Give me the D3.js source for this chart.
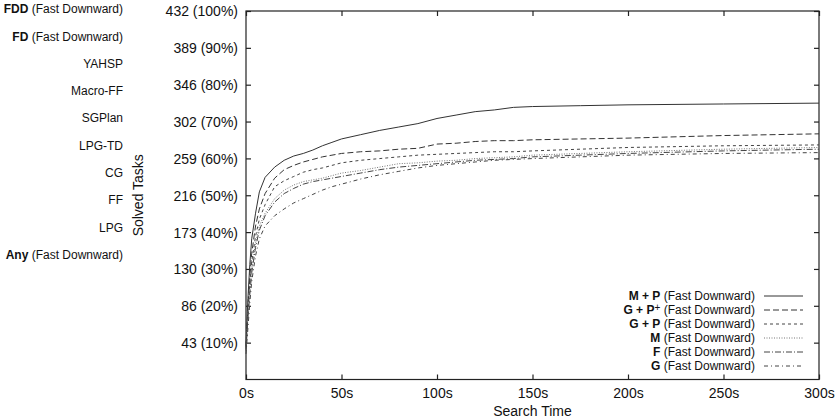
<!DOCTYPE html>
<html>
<head>
<meta charset="utf-8">
<script src="https://cdn.jsdelivr.net/npm/d3@7"></script>
<style>
body { margin: 0; background: #fff; }
text { font-family: "Liberation Sans", Arial, sans-serif; fill: #111; }
</style>
</head>
<body>
<div class="canvas"></div>
<script>
var width = 836,
    height = 420;

var svg = d3.select(".canvas").append("svg")
    .attr("width", width)
    .attr("height", height);

// total tasks, y ticks in percent
var total = 432;
var yTickPct = [10, 20, 30, 40, 50, 60, 70, 80, 90, 100];
var xTicks = [0, 50, 100, 150, 200, 250, 300];

// planner labels at the left
var planners = [
    ["FDD", " (Fast Downward)"],
    ["FD", " (Fast Downward)"],
    ["", "YAHSP"],
    ["", "Macro-FF"],
    ["", "SGPlan"],
    ["", "LPG-TD"],
    ["", "CG"],
    ["", "FF"],
    ["", "LPG"],
    ["Any", " (Fast Downward)"]
];

// time points (s) and solved tasks for each configuration
var times = [0, 1, 2, 3, 5, 7, 10, 15, 20, 25, 30, 35, 40, 45, 50, 60, 70, 80, 90, 100, 110, 120, 130, 140, 150, 175, 200, 250, 300];
var mp   = [40, 95, 135, 165, 195, 220, 237, 249, 257, 262, 265, 269, 274, 278, 282, 287, 292, 296, 300, 306, 310, 314, 316, 319, 320, 321, 322, 323, 324];
var gpp  = [38, 85, 120, 148, 180, 200, 218, 236, 246, 251, 255, 258, 261, 263, 265, 267, 268, 270, 271, 276, 277, 279, 280, 280, 281, 282, 283, 286, 288];
var gp   = [36, 80, 112, 138, 168, 188, 205, 226, 233, 238, 243, 246, 248, 251, 254, 257, 259, 261, 263, 264, 265, 266, 267, 267, 268, 270, 272, 274, 275];
var m    = [35, 75, 105, 130, 160, 180, 195, 212, 222, 228, 232, 234, 236, 239, 242, 245, 249, 253, 254, 256, 257, 259, 260, 261, 263, 265, 267, 270, 272];
var f    = [34, 72, 100, 125, 155, 175, 192, 208, 218, 224, 229, 232, 234, 236, 238, 242, 246, 249, 251, 253, 255, 257, 258, 259, 261, 263, 265, 268, 270];
var g    = [30, 60, 90, 115, 145, 165, 180, 192, 200, 207, 212, 217, 222, 226, 229, 235, 240, 244, 248, 251, 253, 255, 257, 258, 259, 261, 263, 265, 266];

var series = [
    {bold: "M + P", sup: "", values: mp, dash: null, color: "#333"},
    {bold: "G + P", sup: "+", values: gpp, dash: "6,3", color: "#333"},
    {bold: "G + P", sup: "", values: gp, dash: "3,3", color: "#444"},
    {bold: "M", sup: "", values: m, dash: "1,1.5", color: "#777"},
    {bold: "F", sup: "", values: f, dash: "6,2,1,2", color: "#444"},
    {bold: "G", sup: "", values: g, dash: "4,3,1,3", color: "#444"}
];

var x = d3.scaleLinear().domain([0, 300]).range([246, 819]);
var y = d3.scaleLinear().domain([0, total]).range([379.5, 11]);

// frame
svg.append("rect")
    .attr("x", x(0))
    .attr("y", y(total))
    .attr("width", x(300) - x(0))
    .attr("height", y(0) - y(total))
    .attr("fill", "none")
    .attr("stroke", "#222")
    .attr("stroke-width", 1.2);

// y ticks left and right (mirrored)
var yAxisL = d3.axisLeft(y)
    .tickValues(yTickPct.map(function(p) { return total * p / 100; }))
    .tickSize(-5)
    .tickPadding(8)
    .tickFormat(function(d, i) { return Math.round(d) + " (" + yTickPct[i] + "%)"; });
var gl = svg.append("g").attr("transform", "translate(" + x(0) + ",0)").call(yAxisL);
gl.select(".domain").remove();
gl.selectAll("text").style("font-size", "14px").attr("dy", "0.35em");

var yAxisR = d3.axisRight(y)
    .tickValues(yTickPct.map(function(p) { return total * p / 100; }))
    .tickSize(-5)
    .tickFormat("");
var gr = svg.append("g").attr("transform", "translate(" + x(300) + ",0)").call(yAxisR);
gr.select(".domain").remove();

// x ticks bottom and top
var xAxisB = d3.axisBottom(x)
    .tickValues(xTicks)
    .tickSize(-5)
    .tickPadding(9)
    .tickFormat(function(d) { return d + "s"; });
var gb = svg.append("g").attr("transform", "translate(0," + y(0) + ")").call(xAxisB);
gb.select(".domain").remove();
gb.selectAll("text").style("font-size", "14px");

var xAxisT = d3.axisTop(x)
    .tickValues(xTicks)
    .tickSize(-5)
    .tickFormat("");
var gt = svg.append("g").attr("transform", "translate(0," + y(total) + ")").call(xAxisT);
gt.select(".domain").remove();

svg.selectAll(".tick line").attr("stroke", "#222").attr("stroke-width", 1.2);

// axis titles
svg.append("text")
    .attr("x", (x(0) + x(300)) / 2)
    .attr("y", 416)
    .attr("text-anchor", "middle")
    .style("font-size", "14px")
    .text("Search Time");

svg.append("text")
    .attr("transform", "translate(143," + (y(0) + y(total)) / 2 + ") rotate(-90)")
    .attr("text-anchor", "middle")
    .style("font-size", "14px")
    .text("Solved Tasks");

// planner labels
planners.forEach(function(p, i) {
    var t = svg.append("text")
        .attr("x", 123)
        .attr("y", 9 + i * 27.3)
        .attr("dy", "0.35em")
        .attr("text-anchor", "end")
        .style("font-size", "12px");
    if (p[0] != "") {
        t.append("tspan").style("font-weight", "bold").text(p[0]);
    }
    t.append("tspan").text(p[1]);
});

// curves
var line = d3.line()
    .x(function(d, i) { return x(times[i]); })
    .y(function(d) { return y(d); });

series.forEach(function(s) {
    svg.append("path")
        .datum(s.values)
        .attr("d", line)
        .attr("fill", "none")
        .attr("stroke", s.color)
        .attr("stroke-width", 1)
        .attr("stroke-dasharray", s.dash);
});

// legend
series.forEach(function(s, i) {
    var ly = 296 + i * 14;
    var t = svg.append("text")
        .attr("x", 755)
        .attr("y", ly)
        .attr("dy", "0.35em")
        .attr("text-anchor", "end")
        .style("font-size", "12px");
    t.append("tspan").style("font-weight", "bold").text(s.bold);
    if (s.sup != "") {
        t.append("tspan").attr("dy", "-3").style("font-size", "10px").text(s.sup);
        t.append("tspan").attr("dy", "3").text(" ");
    }
    t.append("tspan").text(" (Fast Downward)");
    svg.append("line")
        .attr("x1", 764)
        .attr("x2", 803)
        .attr("y1", ly)
        .attr("y2", ly)
        .attr("stroke", s.color)
        .attr("stroke-width", 1)
        .attr("stroke-dasharray", s.dash);
});
</script>
</body>
</html>
